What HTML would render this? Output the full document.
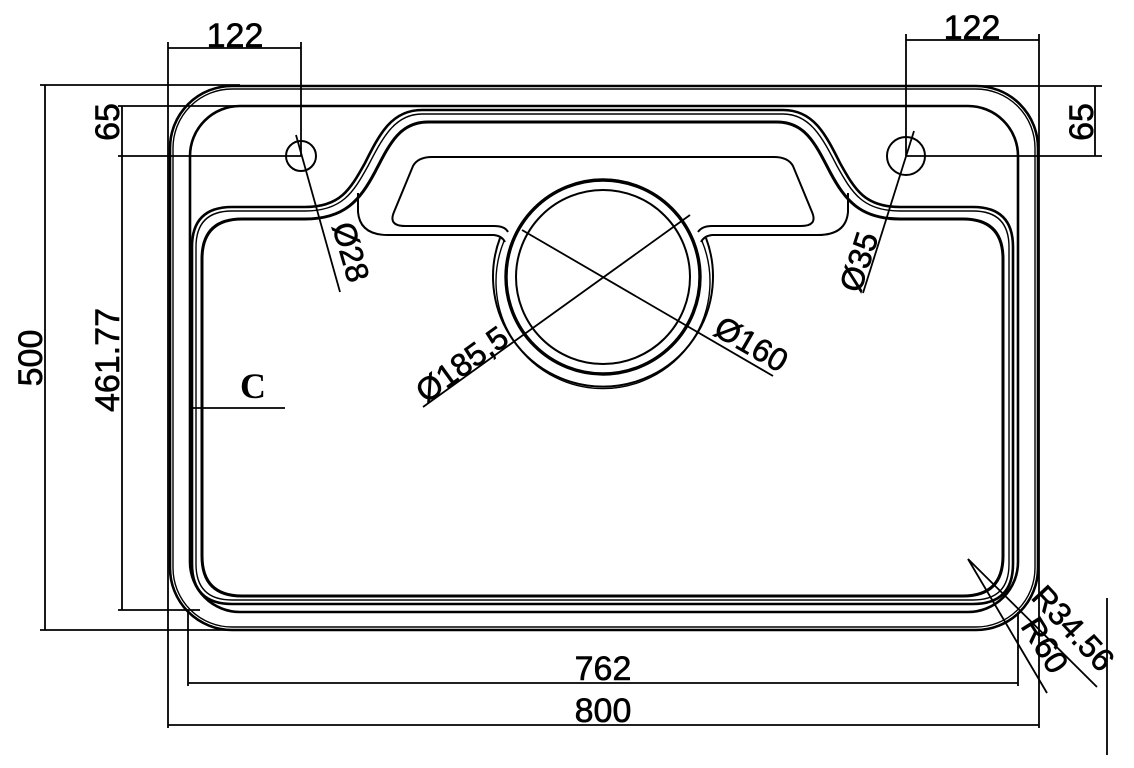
<!DOCTYPE html>
<html><head><meta charset="utf-8"><style>html,body{margin:0;padding:0;background:#fff}svg{display:block}</style></head>
<body>
<svg width="1134" height="768" viewBox="0 0 1134 768" xmlns="http://www.w3.org/2000/svg" font-family="Liberation Sans, sans-serif" fill="none" stroke="#000">
<!-- outer body -->
<rect x="170" y="86" width="868" height="544" rx="62" stroke-width="2.6"/>
<rect x="173" y="89" width="862" height="538" rx="59" stroke-width="1.4"/>
<rect x="190" y="106" width="828" height="506" rx="50" stroke-width="2.6"/>
<!-- basin -->
<path d="M232,207 L305,207 C340,207 350,190 365,163 C380,133 392,110 422,110 L783,110 C813,110 825,133 840,163 C855,190 865,207 900,207 L973,207 Q1013,207 1013,247 L1013,564 Q1013,604 973,604 L232,604 Q192,604 192,564 L192,247 Q192,207 232,207 Z" stroke-width="2.6"/>
<path d="M232,211 L305,211 C342,211 353,193 368,166 C383,137 395,114 422,114 L783,114 C810,114 822,137 837,166 C852,193 863,211 900,211 L973,211 Q1009,211 1009,247 L1009,564 Q1009,600 973,600 L232,600 Q196,600 196,564 L196,247 Q196,211 232,211 Z" stroke-width="1.4"/>
<path d="M242,219 L305,219 C345,219 360,200 375,172 C390,143 400,122 428,122 L777,122 C805,122 815,143 830,172 C845,200 860,219 900,219 L963,219 Q1003,219 1003,259 L1003,556 Q1003,596 963,596 L242,596 Q202,596 202,556 L202,259 Q202,219 242,219 Z" stroke-width="3"/>
<!-- tray -->
<path d="M358,193 L358,212 Q360,235 388,235 L494,235 Q502,236 505,242" stroke-width="2"/>
<path d="M848,193 L848,212 Q846,235 818,235 L712,235 Q704,236 701,242" stroke-width="2"/>
<path d="M494,226 L405,226 Q388,226 394,212 L413,166 Q418,157 432,157 L774,157 Q788,157 793,166 L812,212 Q818,226 801,226 L712,226 Q702,226 698,232" stroke-width="2"/>
<path d="M494,226 Q505,226 508,232" stroke-width="2"/>
<!-- drain -->
<path d="M500,238 A110,110 0 1 0 706,238" stroke-width="2"/>
<path d="M504,241 A107,107 0 1 0 702,241" stroke-width="1.4"/>
<circle cx="603" cy="277" r="97" stroke-width="3.4"/>
<circle cx="603" cy="277" r="87" stroke-width="2"/>
<line x1="522" y1="230" x2="773" y2="376" stroke-width="1.8"/>
<line x1="690" y1="215" x2="423" y2="407" stroke-width="1.8"/>
<!-- holes -->
<circle cx="301" cy="156" r="15" stroke-width="2"/>
<circle cx="906" cy="156" r="19" stroke-width="2"/>
<line x1="296" y1="135" x2="340" y2="292" stroke-width="1.8"/>
<line x1="914" y1="131" x2="863" y2="293" stroke-width="1.8"/>
<!-- dimension lines -->
<g stroke-width="1.8">
<line x1="168" y1="42" x2="168" y2="728"/>
<line x1="301" y1="42" x2="301" y2="156"/>
<line x1="168" y1="48" x2="301" y2="48"/>
<line x1="906" y1="34" x2="906" y2="156"/>
<line x1="1039" y1="34" x2="1039" y2="728"/>
<line x1="906" y1="40" x2="1039" y2="40"/>
<line x1="40" y1="85" x2="240" y2="85"/>
<line x1="45" y1="85" x2="45" y2="630"/>
<line x1="40" y1="630" x2="240" y2="630"/>
<line x1="118" y1="106" x2="240" y2="106"/>
<line x1="122" y1="106" x2="122" y2="610"/>
<line x1="118" y1="610" x2="200" y2="610"/>
<line x1="118" y1="156" x2="301" y2="156"/>
<line x1="960" y1="86" x2="1102" y2="86"/>
<line x1="906" y1="156" x2="1102" y2="156"/>
<line x1="1095" y1="86" x2="1095" y2="156"/>
<line x1="188" y1="612" x2="188" y2="686"/>
<line x1="1018" y1="612" x2="1018" y2="686"/>
<line x1="188" y1="683" x2="1018" y2="683"/>
<line x1="168" y1="725" x2="1039" y2="725"/>
<line x1="968" y1="559" x2="1047" y2="693"/>
<line x1="968" y1="559" x2="1097" y2="687"/>
<line x1="1107" y1="598" x2="1107" y2="755"/>
<line x1="192" y1="408" x2="285" y2="408"/>
</g>
<!-- text -->
<g fill="#000" stroke="#000" stroke-width="0.6" font-size="34">
<text x="235" y="47" text-anchor="middle">122</text>
<text x="972" y="39" text-anchor="middle">122</text>
<text x="603" y="680" text-anchor="middle">762</text>
<text x="603" y="722" text-anchor="middle">800</text>
<text transform="translate(42,358) rotate(-90)" text-anchor="middle">500</text>
<text transform="translate(119,360) rotate(-90)" text-anchor="middle">461.77</text>
<text transform="translate(119,122) rotate(-90)" text-anchor="middle">65</text>
<text transform="translate(1093,122) rotate(-90)" text-anchor="middle">65</text>
<text transform="translate(332,226) rotate(74)" font-size="32">Ø28</text>
<text transform="translate(860,294) rotate(-72)" font-size="32">Ø35</text>
<text transform="translate(426,404) rotate(-36)" font-size="32">Ø185,5</text>
<text transform="translate(712,334) rotate(30)" font-size="32">Ø160</text>
<text transform="translate(1030,598) rotate(47)" font-size="32">R34.56</text>
<text transform="translate(1020,626) rotate(58)" font-size="32">R60</text>
<text x="240" y="398" font-family="Liberation Serif, serif" font-weight="bold" font-size="36" stroke="none">C</text>
</g>
</svg>
</body></html>
